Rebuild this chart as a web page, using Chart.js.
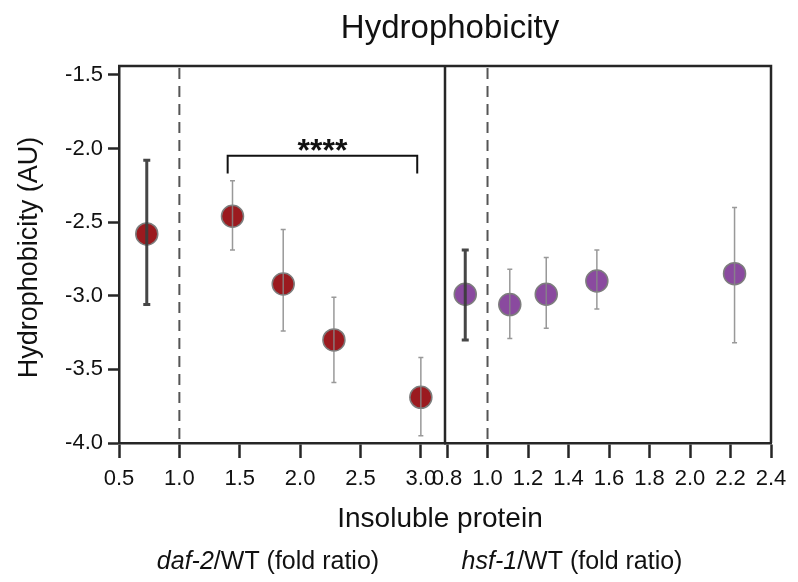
<!DOCTYPE html>
<html>
<head>
<meta charset="utf-8">
<script src="https://cdn.jsdelivr.net/npm/chart.js@4.4.1/dist/chart.umd.min.js"></script>
<style>
  html, body { margin: 0; padding: 0; background: #fff; }
</style>
</head>
<body>
<canvas id="chart" width="798" height="582"></canvas>
<script>
// daf-2 panel
const DAF_X = [0.73, 1.44, 1.86, 2.28, 3.0];
const DAF_Y = [-2.58, -2.46, -2.92, -3.30, -3.69];
const DAF_LO = [-3.06, -2.69, -3.24, -3.59, -3.95];
const DAF_HI = [-2.08, -2.22, -2.55, -3.01, -3.42];
// hsf-1 panel
const HSF_X = [0.89, 1.11, 1.29, 1.54, 2.22];
const HSF_Y = [-2.99, -3.06, -2.99, -2.90, -2.85];
const HSF_LO = [-3.30, -3.29, -3.22, -3.09, -3.32];
const HSF_HI = [-2.69, -2.82, -2.74, -2.69, -2.40];

const X1_TICKS = [0.5, 1.0, 1.5, 2.0, 2.5, 3.0];
const X2_TICKS = [0.8, 1.0, 1.2, 1.4, 1.6, 1.8, 2.0, 2.2, 2.4];
const Y_TICKS = [-4.0, -3.5, -3.0, -2.5, -2.0, -1.5];

// significance bracket between daf-2 points 2 and 5
const BRACKET_X = [1.40, 2.97];
const BRACKET_Y = [-2.05, -2.17];
const BRACKET_LABEL = '****';

const FONT = "'Liberation Sans', Arial, sans-serif";
const AXIS = '#262626';

const toPts = (xs, ys) => xs.map((x, i) => ({ x: x, y: ys[i] }));
const fixTicks = list => scale => { scale.ticks = list.map(v => ({ value: v })); };

function xScale(min, max, ticks) {
    return {
        type: 'linear',
        position: 'bottom',
        stack: 'bottom',
        stackWeight: 1,
        min: min,
        max: max,
        afterBuildTicks: fixTicks(ticks),
        afterFit: s => { s.height = 139; },
        grid: { drawOnChartArea: false, tickLength: 15, tickColor: AXIS, tickWidth: 2.5 },
        border: { color: AXIS, width: 2.5 },
        ticks: {
            autoSkip: false, maxRotation: 0, padding: 8, color: '#111',
            font: { family: FONT, size: 22 },
            callback: v => v.toFixed(1)
        }
    };
}

const errorBars = {
    id: 'errorBars',
    afterDatasetsDraw(chart) {
        const ctx = chart.ctx;
        const y = chart.scales.y;
        const sets = [
            [chart.scales.x1, DAF_X, DAF_LO, DAF_HI],
            [chart.scales.x2, HSF_X, HSF_LO, HSF_HI]
        ];
        ctx.save();
        sets.forEach(([xs, X, LO, HI]) => {
            X.forEach((v, i) => {
                const px = xs.getPixelForValue(v);
                const top = y.getPixelForValue(HI[i]);
                const bot = y.getPixelForValue(LO[i]);
                const thick = i === 0;
                const cap = thick ? 3.5 : 2.5;
                ctx.strokeStyle = thick ? 'rgba(60,60,60,0.95)' : 'rgba(135,135,135,0.85)';
                ctx.lineWidth = thick ? 3 : 1.5;
                ctx.beginPath();
                ctx.moveTo(px, top); ctx.lineTo(px, bot);
                ctx.moveTo(px - cap, top); ctx.lineTo(px + cap, top);
                ctx.moveTo(px - cap, bot); ctx.lineTo(px + cap, bot);
                ctx.stroke();
            });
        });
        ctx.restore();
    }
};

const decorations = {
    id: 'decorations',
    beforeDatasetsDraw(chart) {
        const ctx = chart.ctx;
        const a = chart.chartArea;
        const x1 = chart.scales.x1, x2 = chart.scales.x2;
        ctx.save();
        // dashed reference lines at ratio 1.0
        ctx.strokeStyle = '#555';
        ctx.lineWidth = 2;
        ctx.setLineDash([11, 7]);
        [x1.getPixelForValue(1.0), x2.getPixelForValue(1.0)].forEach(px => {
            ctx.beginPath();
            ctx.moveTo(px, a.top + 2); ctx.lineTo(px, a.bottom);
            ctx.stroke();
        });
        ctx.setLineDash([]);
        // frame: top, right and panel divider
        ctx.strokeStyle = AXIS;
        ctx.lineWidth = 2.5;
        ctx.beginPath();
        ctx.moveTo(a.left - 1, a.top); ctx.lineTo(a.right, a.top); ctx.lineTo(a.right, a.bottom);
        ctx.moveTo(x1.right, a.top); ctx.lineTo(x1.right, a.bottom);
        ctx.stroke();
        ctx.restore();
    },
    afterDraw(chart) {
        const ctx = chart.ctx;
        const a = chart.chartArea;
        const x1 = chart.scales.x1, y = chart.scales.y;
        ctx.save();
        // bracket
        const bl = x1.getPixelForValue(BRACKET_X[0]);
        const br = x1.getPixelForValue(BRACKET_X[1]);
        const bt = y.getPixelForValue(BRACKET_Y[0]);
        const bb = y.getPixelForValue(BRACKET_Y[1]);
        ctx.strokeStyle = '#111';
        ctx.lineWidth = 2;
        ctx.beginPath();
        ctx.moveTo(bl, bb); ctx.lineTo(bl, bt); ctx.lineTo(br, bt); ctx.lineTo(br, bb);
        ctx.stroke();
        ctx.fillStyle = '#111';
        ctx.textAlign = 'center';
        ctx.textBaseline = 'alphabetic';
        ctx.font = `bold 32px ${FONT}`;
        ctx.fillText(BRACKET_LABEL, (bl + br) / 2, bt + 5);

        // titles
        ctx.font = `33px ${FONT}`;
        ctx.fillText('Hydrophobicity', 450, 38);
        ctx.font = `28px ${FONT}`;
        ctx.fillText('Insoluble protein', 440, 527);

        // sub labels with italic gene names
        const sub = (gene, rest, cx) => {
            ctx.font = `italic 25px ${FONT}`;
            const w1 = ctx.measureText(gene).width;
            ctx.font = `25px ${FONT}`;
            const w2 = ctx.measureText(rest).width;
            const x0 = cx - (w1 + w2) / 2;
            ctx.textAlign = 'left';
            ctx.font = `italic 25px ${FONT}`;
            ctx.fillText(gene, x0, 569);
            ctx.font = `25px ${FONT}`;
            ctx.fillText(rest, x0 + w1, 569);
        };
        sub('daf-2', '/WT (fold ratio)', 268);
        sub('hsf-1', '/WT (fold ratio)', 572);

        // y title
        ctx.textAlign = 'center';
        ctx.font = `27px ${FONT}`;
        ctx.translate(37, (a.top + a.bottom) / 2 + 3);
        ctx.rotate(-Math.PI / 2);
        ctx.fillText('Hydrophobicity (AU)', 0, 0);
        ctx.restore();
    }
};

new Chart(document.getElementById('chart'), {
    type: 'scatter',
    data: {
        datasets: [
            {
                label: 'daf-2',
                data: toPts(DAF_X, DAF_Y),
                xAxisID: 'x1',
                yAxisID: 'y',
                pointRadius: 11,
                pointHoverRadius: 11,
                backgroundColor: '#9b1a1f',
                borderColor: '#7d7d7d',
                borderWidth: 1.5
            },
            {
                label: 'hsf-1',
                data: toPts(HSF_X, HSF_Y),
                xAxisID: 'x2',
                yAxisID: 'y',
                pointRadius: 11,
                pointHoverRadius: 11,
                backgroundColor: '#8a4a9f',
                borderColor: '#7d7d7d',
                borderWidth: 1.5
            }
        ]
    },
    options: {
        responsive: false,
        animation: false,
        devicePixelRatio: 1,
        layout: { padding: { top: 66, right: 27, left: 0, bottom: 0 } },
        plugins: { legend: { display: false }, tooltip: { enabled: false } },
        scales: {
            x1: xScale(0.5, 3.2, X1_TICKS),
            x2: xScale(0.79, 2.4, X2_TICKS),
            y: {
                type: 'linear',
                position: 'left',
                min: -4.0,
                max: -1.44,
                afterBuildTicks: fixTicks(Y_TICKS),
                afterFit: s => { s.width = 119; },
                grid: { drawOnChartArea: false, tickLength: 11, tickColor: AXIS, tickWidth: 2.5 },
                border: { color: AXIS, width: 2.5 },
                ticks: {
                    padding: 5, color: '#111',
                    font: { family: FONT, size: 22 },
                    callback: v => v.toFixed(1)
                }
            }
        }
    },
    plugins: [decorations, errorBars]
});
</script>
</body>
</html>
